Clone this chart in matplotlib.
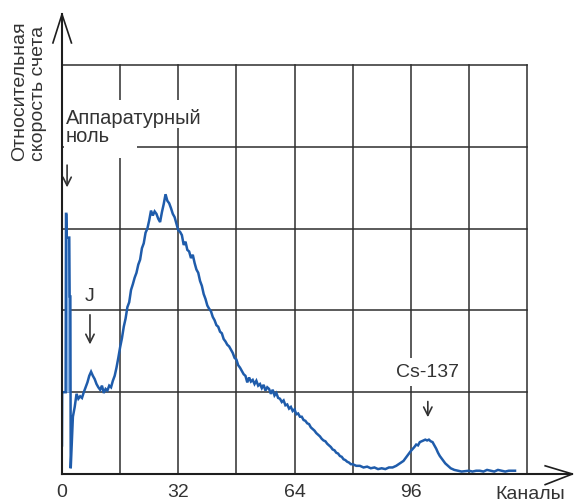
import matplotlib
matplotlib.use("Agg")
import matplotlib.pyplot as plt
from matplotlib.patches import Rectangle

plt.rcParams['font.family'] = ['Liberation Sans', 'DejaVu Sans']

# ---- data ----
# apparatus-zero spike at the start of the spectrum
spike_curve_ch = [0.0, 0.05, 1.0, 1.1, 1.2, 1.3, 2.0, 2.1, 2.3, 2.4]
spike_curve_val = [0.35, 1.0, 1.0, 3.18, 3.18, 2.89, 2.89, 2.17, 2.17, 0.07]

# rest of the spectrum (channel, relative count rate)
channels = [3.0, 3.5, 4.0, 4.5, 5.0, 5.5, 6.0, 6.5, 7.0, 7.5, 8.0, 8.5, 9.0, 9.5, 10.0,
            10.5, 11.0, 11.5, 12.0, 12.5, 13.0, 13.5, 14.0, 14.5, 15.0, 15.5, 16.0,
            16.5, 17.0, 17.5, 18.0, 18.5, 19.0, 19.5, 20.0, 20.5, 21.0, 21.5, 22.0,
            22.5, 23.0, 23.5, 24.0, 24.5, 25.0, 25.5, 26.0, 26.5, 27.0, 27.5, 28.0,
            28.5, 29.0, 29.5, 30.0, 30.5, 31.0, 31.5, 32.0, 32.5, 33.0, 33.5, 34.0,
            34.5, 35.0, 35.5, 36.0, 36.5, 37.0, 37.5, 38.0, 38.5, 39.0, 39.5, 40.0,
            40.5, 41.0, 41.5, 42.0, 42.5, 43.0, 43.5, 44.0, 44.5, 45.0, 45.5, 46.0,
            46.5, 47.0, 47.5, 48.0, 48.5, 49.0, 49.5, 50.0, 50.5, 51.0, 51.5, 52.0,
            52.5, 53.0, 53.5, 54.0, 54.5, 55.0, 55.5, 56.0, 56.5, 57.0, 57.5, 58.0,
            58.5, 59.0, 59.5, 60.0, 60.5, 61.0, 61.5, 62.0, 62.5, 63.0, 63.5, 64.0,
            64.5, 65.0, 65.5, 66.0, 66.5, 67.0, 67.5, 68.0, 68.5, 69.0, 69.5, 70.0,
            70.5, 71.0, 71.5, 72.0, 72.5, 73.0, 73.5, 74.0, 74.5, 75.0, 75.5, 76.0,
            76.5, 77.0, 77.5, 78.0, 78.5, 79.0, 79.5, 80.0, 81.0, 82.0, 83.0, 84.0,
            85.0, 86.0, 87.0, 88.0, 89.0, 90.0, 91.0, 92.0, 93.0, 94.0, 95.0, 96.0,
            97.0, 97.5, 98.0, 98.5, 99.0, 99.5, 100.0, 100.5, 101.0, 101.5, 102.0,
            102.5, 103.0, 103.5, 104.0, 104.5, 105.0, 105.5, 106.0, 106.5, 107.0,
            108.0, 109.0, 110.0, 112.0, 113.0, 114.0, 115.0, 116.0, 117.0, 118.0,
            119.0, 120.0, 121.0, 122.0, 123.0, 124.0, 124.7]
counts = [0.70, 0.82, 0.98, 0.92, 0.95, 0.93, 1.00, 1.06, 1.12, 1.20, 1.25, 1.20, 1.16,
          1.10, 1.06, 1.03, 1.08, 0.99, 1.04, 1.02, 1.08, 1.06, 1.14, 1.20, 1.30, 1.42,
          1.55, 1.66, 1.80, 1.90, 2.04, 2.10, 2.25, 2.32, 2.40, 2.46, 2.56, 2.62, 2.76,
          2.82, 2.95, 3.00, 3.10, 3.22, 3.16, 3.21, 3.18, 3.12, 3.08, 3.20, 3.30, 3.42,
          3.34, 3.31, 3.25, 3.18, 3.14, 3.06, 2.98, 2.96, 2.92, 2.80, 2.84, 2.74, 2.72,
          2.64, 2.68, 2.58, 2.50, 2.46, 2.36, 2.30, 2.20, 2.14, 2.06, 2.02, 1.99, 1.92,
          1.88, 1.82, 1.80, 1.74, 1.72, 1.65, 1.62, 1.58, 1.56, 1.52, 1.48, 1.42, 1.40,
          1.33, 1.30, 1.26, 1.22, 1.20, 1.12, 1.18, 1.13, 1.15, 1.10, 1.14, 1.08, 1.10,
          1.05, 1.09, 1.02, 1.06, 1.04, 0.98, 1.03, 0.96, 0.99, 0.93, 0.92, 0.88, 0.90,
          0.84, 0.85, 0.80, 0.82, 0.77, 0.79, 0.73, 0.74, 0.70, 0.70, 0.66, 0.65, 0.62,
          0.61, 0.57, 0.55, 0.53, 0.50, 0.48, 0.46, 0.43, 0.41, 0.40, 0.37, 0.35, 0.33,
          0.30, 0.29, 0.26, 0.25, 0.22, 0.21, 0.18, 0.17, 0.15, 0.14, 0.12, 0.12, 0.10,
          0.10, 0.08, 0.09, 0.07, 0.08, 0.06, 0.07, 0.06, 0.08, 0.08, 0.10, 0.13, 0.16,
          0.22, 0.28, 0.33, 0.36, 0.35, 0.39, 0.40, 0.41, 0.42, 0.41, 0.42, 0.40, 0.39,
          0.35, 0.31, 0.26, 0.22, 0.19, 0.16, 0.13, 0.11, 0.09, 0.07, 0.05, 0.04, 0.03,
          0.04, 0.03, 0.04, 0.04, 0.03, 0.05, 0.04, 0.03, 0.05, 0.04, 0.03, 0.04, 0.04,
          0.04]

spike_ch = [1.2, 2.0, 2.1, 2.3]
spike_top = [2.89, 2.89, 2.17, 2.17]
spike_base = 1.0

xtick_vals = [0, 32, 64, 96]
xtick_labels = ['0', '32', '64', '96']
grid_x = [16, 32, 48, 64, 80, 96, 112, 128]
grid_y = [1, 2, 3, 4, 5]

ylabel = 'Относительная\nскорость счета'
xlabel = 'Каналы'
zero_label = 'Аппаратурный\nноль'

# ---- figure ----
W, H = 574, 504
fig = plt.figure(figsize=(W / 100, H / 100), dpi=100)
fig.patch.set_facecolor('white')
ax = fig.add_axes([62 / W, 30 / H, 465 / W, 409 / H])
ax.set_xlim(0, 128)
ax.set_ylim(0, 5)
for s in ax.spines.values():
    s.set_visible(False)


def px_rect(x0, y0, x1, y1):
    # white masking box given in picture pixels (top-left origin)
    return Rectangle((x0 / W, 1 - y1 / H), (x1 - x0) / W, (y1 - y0) / H,
                     transform=fig.transFigure, fc='white', ec='none',
                     clip_on=False, zorder=2)


gc = '#2e2e2e'
for gx in grid_x:
    ax.plot([gx, gx], [0, 5], color=gc, lw=1.1, zorder=1, clip_on=False)
for gy in grid_y:
    ax.plot([0, 128], [gy, gy], color=gc, lw=1.1, zorder=1, clip_on=False)

# axes with open arrow heads
ac = '#1e1e1e'
ax.plot([0, 0], [0, 5.62], color=ac, lw=1.5, clip_on=False, zorder=5)
ax.plot([-2.5, 0, 2.6], [5.27, 5.62, 5.27], color=ac, lw=1.2, clip_on=False, zorder=5)
ax.plot([0, 140.5], [0, 0], color=ac, lw=1.5, clip_on=False, zorder=5)
ax.plot([133, 140.5, 133], [0.1, 0, -0.13], color=ac, lw=1.2, clip_on=False, zorder=5)

# white masks behind labels that interrupt the grid
ax.add_patch(px_rect(64, 100, 205, 128))
ax.add_patch(px_rect(64, 128, 137, 158))
ax.add_patch(px_rect(392, 358, 464, 386))

# spectrum
ax.fill_between(spike_ch, spike_base, spike_top, color='#8ab4e6', zorder=3, lw=0)
ax.plot(spike_curve_ch + channels, spike_curve_val + counts, color='#1f5cab', lw=1.8,
        zorder=4, solid_joinstyle='miter')

# ticks
ax.set_xticks(xtick_vals)
ax.set_xticklabels(xtick_labels, fontsize=14, color='#333333')
ax.tick_params(axis='x', length=0, pad=7)
ax.set_yticks([])

tc = '#333333'
fig.text(29 / W, 1 - 161 / H, ylabel, rotation=90, ha='center', va='bottom',
         multialignment='left', fontsize=14, color=tc, linespacing=1.1)
fig.text(530 / W, 1 - 499 / H, xlabel, ha='center', va='baseline', fontsize=14, color=tc)

fig.text(66 / W, 1 - 142 / H, zero_label, ha='left', va='baseline', fontsize=14.5,
         color=tc, zorder=6, linespacing=0.9, multialignment='left')

ax.text(7.7, 2.17, 'J', ha='center', va='center', fontsize=14, color=tc)
ax.text(100.5, 1.24, 'Cs-137', ha='center', va='center', fontsize=14, color=tc, zorder=6)

arrow_kw = dict(arrowstyle='->', color=tc, lw=1.2, mutation_scale=15)
ax.annotate('', xy=(1.4, 3.47), xytext=(1.4, 3.81), arrowprops=arrow_kw, annotation_clip=False)
ax.annotate('', xy=(7.7, 1.55), xytext=(7.7, 1.98), arrowprops=arrow_kw, annotation_clip=False)
ax.annotate('', xy=(100.7, 0.66), xytext=(100.7, 0.92), arrowprops=arrow_kw, annotation_clip=False)

fig.savefig('out.png', dpi=100, facecolor='white')
